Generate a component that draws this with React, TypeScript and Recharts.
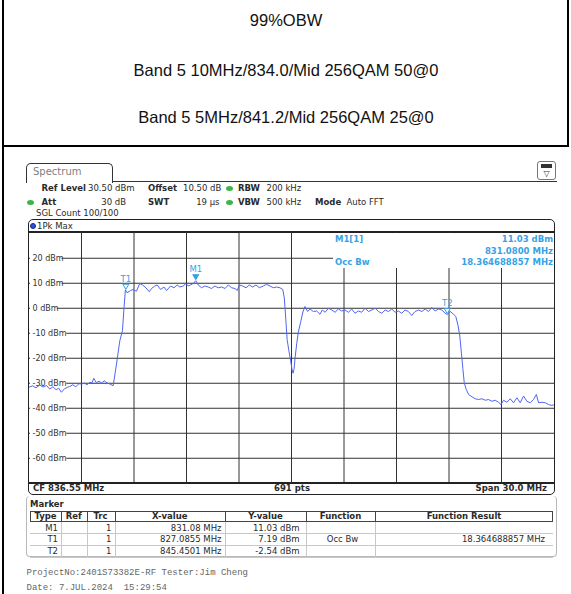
import React from 'react';
import { LineChart, Line, XAxis, YAxis, ReferenceLine, ReferenceDot } from 'recharts';

// ---- trace data (MHz, dBm) ----
const freqMHz = [
  821.55, 821.75, 821.95, 822.16, 822.35, 822.55, 822.73, 822.92, 823.10, 823.25,
  823.40, 823.58, 823.75, 823.88, 824.05, 824.22, 824.40, 824.55, 824.72, 824.88,
  825.02, 825.15, 825.25, 825.40, 825.55, 825.70, 825.85, 826.00, 826.17, 826.36,
  826.55, 826.74, 826.89, 826.98, 827.06, 827.15, 827.35, 827.50, 827.69, 827.88,
  828.04, 828.23, 828.42, 828.55, 828.74, 828.88, 829.07, 829.26, 829.41, 829.64,
  829.83, 830.02, 830.17, 830.36, 830.52, 830.65, 830.78, 830.93, 831.08, 831.22,
  831.41, 831.60, 831.79, 831.98, 832.17, 832.36, 832.56, 832.75, 832.94, 833.13,
  833.32, 833.45, 833.57, 833.76, 833.95, 834.14, 834.33, 834.52, 834.71, 834.94,
  835.13, 835.32, 835.51, 835.70, 835.89, 836.05, 836.14, 836.22, 836.30, 836.40,
  836.50, 836.58, 836.64, 836.70, 836.76, 836.85, 836.94, 837.08, 837.20, 837.32,
  837.47, 837.61, 837.80, 837.99, 838.18, 838.31, 838.47, 838.66, 838.85, 839.04,
  839.23, 839.42, 839.61, 839.80, 839.99, 840.18, 840.37, 840.56, 840.75, 840.95,
  841.14, 841.33, 841.52, 841.71, 841.90, 842.09, 842.28, 842.47, 842.66, 842.85,
  843.04, 843.23, 843.42, 843.61, 843.81, 844.00, 844.19, 844.38, 844.57, 844.76,
  844.95, 845.14, 845.33, 845.45, 845.62, 845.81, 845.94, 846.06, 846.16, 846.26,
  846.34, 846.42, 846.53, 846.67, 846.86, 847.05, 847.24, 847.43, 847.62, 847.81,
  848.00, 848.19, 848.38, 848.52, 848.67, 848.86, 849.05, 849.24, 849.43, 849.62,
  849.81, 850.00, 850.19, 850.38, 850.54, 850.67, 850.86, 851.05, 851.24, 851.43,
  851.55,
];
const levelDbm = [
  -31.6, -31.0, -31.8, -30.7, -31.5, -30.9, -32.3, -31.4, -32.6, -32.0,
  -33.6, -32.2, -31.6, -31.3, -30.6, -31.4, -30.2, -30.3, -30.0, -30.6,
  -29.6, -29.9, -28.0, -29.8, -29.2, -29.9, -29.0, -29.8, -30.3, -31.0,
  -22.3, -13.0, -9.0, 0.3, 7.4, 6.2, 7.1, 7.5, 6.8, 9.9,
  9.3, 8.2, 6.6, 7.9, 8.9, 9.3, 7.5, 8.5, 7.1, 8.9,
  8.2, 9.3, 8.5, 8.9, 9.9, 8.9, 9.3, 9.9, 11.03, 9.3,
  8.2, 8.9, 8.5, 7.9, 8.9, 8.2, 8.5, 7.9, 9.3, 8.2,
  7.9, 7.1, 9.3, 8.9, 8.2, 9.3, 8.5, 9.3, 8.2, 8.9,
  9.6, 8.9, 8.2, 8.5, 8.2, 7.5, 4.1, -4.0, -12.5, -17.0,
  -21.0, -24.5, -26.0, -24.0, -19.5, -14.0, -9.5, -5.3, -1.5, 0.7,
  -1.3, -0.3, -1.3, -1.1, -2.4, -0.7, -1.6, 0.0, -0.7, -1.6,
  -0.3, -1.1, -0.7, -1.6, -0.3, -2.0, -1.1, -1.6, 0.0, -1.3,
  -0.7, 0.0, -1.3, -2.0, -0.7, -1.3, -0.3, -1.6, -1.1, -2.0,
  -0.7, -1.3, -2.9, -1.3, -0.7, -1.3, -0.3, -1.3, 0.3, -1.1,
  -0.3, -0.7, -2.0, -2.54, -1.3, -2.4, -3.3, -6.7, -10.7, -18.0,
  -24.0, -29.7, -32.4, -34.5, -35.4, -36.2, -36.5, -36.2, -36.8, -36.5,
  -37.2, -36.8, -37.6, -38.5, -36.8, -37.6, -36.2, -37.8, -35.8, -37.8,
  -35.1, -37.2, -37.8, -36.5, -34.5, -37.8, -37.6, -37.8, -38.5, -38.9,
  -38.6,
];

const gridFreqs = [824.55, 827.55, 830.55, 833.55, 836.55, 839.55, 842.55, 845.55, 848.55];
const gridLevels = [20, 10, 0, -10, -20, -30, -40, -50, -60];
const levelLabels = ['20 dBm', '10 dBm', '0 dBm', '-10 dBm', '-20 dBm', '-30 dBm', '-40 dBm', '-50 dBm', '-60 dBm'];
const freqDomain = [821.55, 851.55];
const levelDomain = [-69.5, 30.5];

const markerNames = ['M1', 'T1', 'T2'];
const markerFreqs = [831.08, 827.0855, 845.4501];
const markerLevels = [11.03, 7.19, -2.54];
const markerFilled = [true, false, false];

const titleLines = ['99%OBW', 'Band 5 10MHz/834.0/Mid 256QAM 50@0', 'Band 5 5MHz/841.2/Mid 256QAM 25@0'];

const tableHeaders = ['Type', 'Ref', 'Trc', 'X-value', 'Y-value', 'Function', 'Function Result'];
const tableTypes = ['M1', 'T1', 'T2'];
const tableTrc = ['1', '1', '1'];
const tableX = ['831.08 MHz', '827.0855 MHz', '845.4501 MHz'];
const tableY = ['11.03 dBm', '7.19 dBm', '-2.54 dBm'];
const tableFunc = ['', 'Occ Bw', ''];
const tableResult = ['', '18.364688857 MHz', ''];

const data = freqMHz.map((f, i) => ({ f, level: levelDbm[i] }));

const TRACE = '#5066f2';
const MARK = '#35a2e6';
const UI = 'DejaVu Sans, Verdana, sans-serif';

type TProps = {
  x: number; y: number; children: React.ReactNode; size?: number; bold?: boolean;
  color?: string; align?: 'left' | 'right' | 'center'; font?: string;
};
function T({ x, y, children, size = 8.5, bold = false, color = '#2a2a2a', align = 'left', font = UI }: TProps) {
  const style: React.CSSProperties = {
    position: 'absolute', top: y - size / 2, lineHeight: `${size}px`, fontSize: size,
    fontFamily: font, fontWeight: bold ? 700 : 400, color, whiteSpace: 'pre',
  };
  if (align === 'left') style.left = x;
  else if (align === 'right') style.right = 571 - x;
  else { style.left = x; style.transform = 'translateX(-50%)'; }
  return <div style={style}>{children}</div>;
}

function Box(props: { l: number; t: number; w: number; h: number; style?: React.CSSProperties }) {
  return <div style={{ position: 'absolute', left: props.l, top: props.t, width: props.w, height: props.h, boxSizing: 'border-box', ...props.style }} />;
}

const levelLabel = (text: string) => (props: any) => {
  const vb = props.viewBox || {};
  const x = vb.x ?? 0;
  const y = vb.y ?? 0;
  const w = text.length * 4.75 + 1;
  return (
    <g>
      <rect x={x + 1} y={y - 5} width={w + 2} height={10} fill="#ffffff" />
      <text x={x + 3.5} y={y + 3} fontSize={8} fontFamily={UI} fill="#333">{text}</text>
    </g>
  );
};

const markerShape = (name: string, filled: boolean) => (props: any) => {
  const cx = props.cx ?? 0;
  const cy = props.cy ?? 0;
  return (
    <g>
      <polygon points={`${cx - 3},${cy - 6} ${cx + 3},${cy - 6} ${cx},${cy - 1}`}
        fill={filled ? MARK : '#ffffff'} stroke={MARK} strokeWidth={1} />
      <text x={cx} y={cy - 8.5} textAnchor="middle" fontSize={8.5} fontFamily={UI} fill={MARK}>{name}</text>
    </g>
  );
};

const colEdges = [30, 61, 86.5, 114.5, 225, 306, 375, 553];
const rowEdges = [521.5, 533.3, 545, 556.5];
const TITLE_FONT = 'Liberation Sans, Arial, sans-serif';

export default function App() {
  return (
    <div style={{ position: 'absolute', left: 0, top: 0, width: 571, height: 594, background: '#fff', overflow: 'hidden' }}>
      {/* page borders */}
      <Box l={2} t={0} w={2} h={594} style={{ background: '#000' }} />
      <Box l={567} t={0} w={2} h={147} style={{ background: '#000' }} />
      <Box l={2} t={145} w={567} h={2} style={{ background: '#000' }} />

      {/* titles */}
      <T x={286} y={20} size={16.5} align="center" font={TITLE_FONT} color="#111">{titleLines[0]}</T>
      <T x={286} y={70} size={16.5} align="center" font={TITLE_FONT} color="#111">{titleLines[1]}</T>
      <T x={286} y={117} size={16.5} align="center" font={TITLE_FONT} color="#111">{titleLines[2]}</T>

      {/* Spectrum tab */}
      <Box l={26} t={163} w={87} h={20} style={{ border: '1px solid #333', borderBottom: 'none', borderRadius: '5px 5px 0 0', background: '#fff' }} />
      <Box l={112} t={181} w={445} h={1} style={{ background: '#333' }} />
      <T x={33} y={172} size={10} color="#808080">Spectrum</T>
      <Box l={537} t={161} w={19} h={19} style={{ border: '1px solid #777', borderRadius: 3, background: '#fff' }} />
      <Box l={541} t={164} w={11} h={4} style={{ background: '#333' }} />
      <T x={546.5} y={173.5} size={8} align="center" color="#333">▽</T>

      {/* settings */}
      <T x={41.5} y={188.5} bold>Ref Level</T>
      <T x={88} y={188.5}>30.50 dBm</T>
      <T x={148} y={188.5} bold>Offset</T>
      <T x={183} y={188.5}>10.50 dB</T>
      <Box l={226} t={186} w={7} h={5} style={{ background: '#3cb44a', borderRadius: '50%' }} />
      <T x={238} y={188.5} bold>RBW</T>
      <T x={266.5} y={188.5}>200 kHz</T>

      <Box l={27} t={199.5} w={7} h={5} style={{ background: '#3cb44a', borderRadius: '50%' }} />
      <T x={41.5} y={201.8} bold>Att</T>
      <T x={126} y={201.8} align="right">30 dB</T>
      <T x={148} y={201.8} bold>SWT</T>
      <T x={219.5} y={201.8} align="right">19 µs</T>
      <Box l={226} t={199.5} w={7} h={5} style={{ background: '#3cb44a', borderRadius: '50%' }} />
      <T x={238} y={201.8} bold>VBW</T>
      <T x={266.5} y={201.8}>500 kHz</T>
      <T x={315} y={201.8} bold>Mode</T>
      <T x={346.5} y={201.8}>Auto FFT</T>

      <T x={36} y={213.5}>SGL Count 100/100</T>

      {/* instrument frame */}
      <Box l={28} t={219} w={527} h={276} style={{ border: '1.5px solid #222', borderRadius: 5, background: '#fff' }} />
      <Box l={29} t={482} w={525} h={1.5} style={{ background: '#222' }} />
      <Box l={29} t={231} w={525} h={1.5} style={{ background: '#222' }} />
      <Box l={30} t={223} w={6} h={6} style={{ background: '#2a4ee0', borderRadius: '50%', border: '1px solid #1a2a80' }} />
      <T x={37} y={226}>1Pk Max</T>

      {/* plot */}
      <div style={{ position: 'absolute', left: 29, top: 232 }}>
        <LineChart width={525} height={250} data={data} margin={{ top: 0, right: 0, bottom: 0, left: 0 }}>
          <XAxis dataKey="f" type="number" domain={freqDomain} allowDataOverflow hide />
          <YAxis type="number" domain={levelDomain} allowDataOverflow hide />
          {gridFreqs.map((f) => (
            <ReferenceLine key={`v${f}`} x={f} stroke="#333" strokeWidth={1} />
          ))}
          {gridLevels.map((lv, i) => (
            <ReferenceLine key={`h${lv}`} y={lv} stroke="#333" strokeWidth={1}
              label={{ content: levelLabel(levelLabels[i]) as any }} />
          ))}
          <Line dataKey="level" type="linear" stroke={TRACE} strokeWidth={1} dot={false}
            isAnimationActive={false} />
          {markerNames.map((m, i) => (
            <ReferenceDot key={m} x={markerFreqs[i]} y={markerLevels[i]} r={3}
              shape={markerShape(m, markerFilled[i]) as any} />
          ))}
        </LineChart>
      </div>

      {/* marker info overlay */}
      <Box l={333} t={233} w={221} h={35} style={{ background: '#fff' }} />
      <T x={335} y={239.5} bold color={MARK}>M1[1]</T>
      <T x={553} y={239.5} bold color={MARK} align="right">11.03 dBm</T>
      <T x={553} y={251} bold color={MARK} align="right">831.0800 MHz</T>
      <T x={335} y={262.5} bold color={MARK}>Occ Bw</T>
      <T x={553} y={262.5} bold color={MARK} align="right">18.364688857 MHz</T>

      {/* footer row */}
      <T x={33} y={488.5} bold>CF 836.55 MHz</T>
      <T x={292} y={488.5} bold align="center">691 pts</T>
      <T x={547} y={488.5} bold align="right">Span 30.0 MHz</T>

      {/* marker table */}
      <Box l={26} t={496} w={531} h={61} style={{ border: '1px solid #b8b8b8', borderRadius: 4, borderTop: 'none' }} />
      <T x={30} y={503.8} bold>Marker</T>
      <Box l={colEdges[0]} t={510.5} w={colEdges[7] - colEdges[0]} h={11.5} style={{ border: '1px solid #444' }} />
      {colEdges.slice(1, 7).map((e) => (
        <Box key={`hc${e}`} l={e} t={510.5} w={1} h={11.5} style={{ background: '#444' }} />
      ))}
      {tableHeaders.map((h, i) => (
        <T key={h} x={(colEdges[i] + colEdges[i + 1]) / 2} y={516.3} bold align="center">{h}</T>
      ))}
      {rowEdges.slice(1).map((r) => (
        <Box key={`r${r}`} l={colEdges[0]} t={r} w={colEdges[7] - colEdges[0]} h={1} style={{ background: '#c8c8c8' }} />
      ))}
      {colEdges.slice(1, 7).map((e) => (
        <Box key={`dc${e}`} l={e} t={521.5} w={1} h={35} style={{ background: '#c8c8c8' }} />
      ))}
      {tableTypes.map((t, i) => {
        const yc = (rowEdges[i] + rowEdges[i + 1]) / 2 + 0.5;
        return (
          <React.Fragment key={t}>
            <T x={colEdges[1] - 3} y={yc} align="right">{t}</T>
            <T x={colEdges[3] - 3} y={yc} align="right">{tableTrc[i]}</T>
            <T x={colEdges[4] - 3.5} y={yc} align="right">{tableX[i]}</T>
            <T x={colEdges[5] - 6.5} y={yc} align="right">{tableY[i]}</T>
            <T x={(colEdges[5] + colEdges[6]) / 2 + 2} y={yc} align="center">{tableFunc[i]}</T>
            <T x={colEdges[7] - 8} y={yc} align="right">{tableResult[i]}</T>
          </React.Fragment>
        );
      })}

      {/* footnotes */}
      <T x={26.5} y={573.5} size={9} font="Liberation Mono, Courier New, monospace" color="#666">ProjectNo:2401S73382E-RF Tester:Jim Cheng</T>
      <T x={26.5} y={588.5} size={9} font="Liberation Mono, Courier New, monospace" color="#666">Date: 7.JUL.2024  15:29:54</T>
    </div>
  );
}
